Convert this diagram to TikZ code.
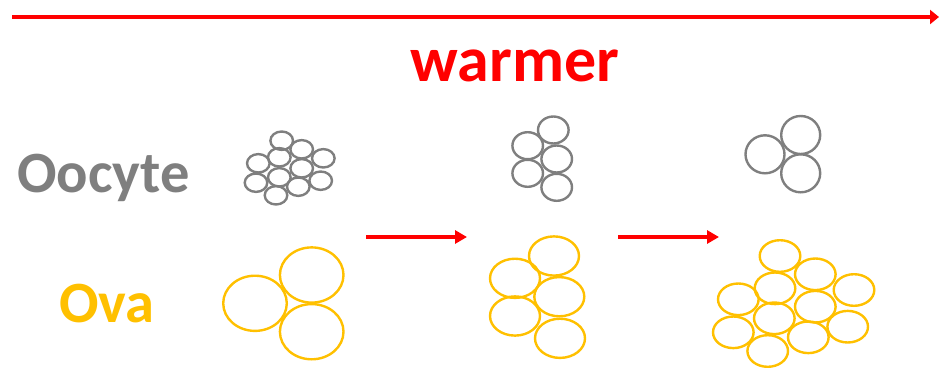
\documentclass[tikz,border=0pt]{standalone}
\usepackage{fontspec}
\setmainfont{Carlito}
\usetikzlibrary{arrows.meta}
\definecolor{cgray}{HTML}{7F7F7F}
\definecolor{cyel}{HTML}{FFC000}
\definecolor{cred}{HTML}{FF0000}
\tikzset{
  gcell/.style={draw=cgray,line width=2.4pt},
  ycell/.style={draw=cyel,line width=2.4pt},
  redarrow/.style={draw=cred,line width=3.5pt,-{Triangle[length=12pt,width=13pt]}},
  lbl/.style={inner sep=0pt,font=\bfseries}
}
\begin{document}
\begin{tikzpicture}[x=1pt,y=-1pt]
\useasboundingbox (0,0) rectangle (939,367);
% top arrow
\coordinate (t0) at (12,17);
\coordinate (t1) at (939,17);
\draw[draw=cred,line width=4.5pt,-{Triangle[length=9pt,width=14pt]}] (t0) -- (t1);
\node[lbl,text=cred,font=\bfseries\fontsize{64}{72}\selectfont,anchor=base] (warm) at (515,81) {warmer};
\node[lbl,text=cgray,font=\bfseries\fontsize{58.5}{66}\selectfont,anchor=base west] (oo) at (17,192) {Oocyte};
\node[lbl,text=cyel,font=\bfseries\fontsize{58.5}{66}\selectfont,anchor=base west] (ova) at (59,322) {Ova};
% middle arrows
\coordinate (a0) at (366,237); \coordinate (a1) at (467,237);
\coordinate (b0) at (618,237); \coordinate (b1) at (719,237);
\draw[redarrow] (a0) -- (a1);
\draw[redarrow] (b0) -- (b1);
% gray cluster 1
\foreach \x/\y in {281.7/140.7,301.7/149.3,279.3/157.3,323.3/158.3,258.3/163.3,301.7/168.3,279.3/177.3,256/182.7,320.7/180.7,298.3/186.7,276/195.3}
  \draw[gcell] (\x,\y) ellipse [x radius=11.3, y radius=9.2];
% gray cluster 2
\foreach \x/\y in {553.3/130,527.7/145.7,556.7/159,527.7/173.3,556.7/187.3}
  \draw[gcell] (\x,\y) ellipse [x radius=15.3, y radius=13.5];
% gray cluster 3
\foreach \x/\y in {800.7/135,765/154.3,800.7/173.3}
  \draw[gcell] (\x,\y) ellipse [x radius=19.5, y radius=19];
% yellow cluster 1
\foreach \x/\y in {255/303.3,311.7/275,311.7/331.7}
  \draw[ycell] (\x,\y) ellipse [x radius=31.8, y radius=27.6];
% yellow cluster 2
\foreach \x/\y in {554/256,515/278.3,559.3/296.7,515/316,560/338.3}
  \draw[ycell] (\x,\y) ellipse [x radius=25, y radius=19.6];
% yellow cluster 3
\foreach \x/\y in {780/256,815.3/274.3,775/288.3,854/290,738.3/299.3,815.3/306.7,774.3/318.3,847.7/326.7,733.3/332.3,808.3/337.3,767.7/351}
  \draw[ycell] (\x,\y) ellipse [x radius=20.3, y radius=15.8];
\end{tikzpicture}
\end{document}
